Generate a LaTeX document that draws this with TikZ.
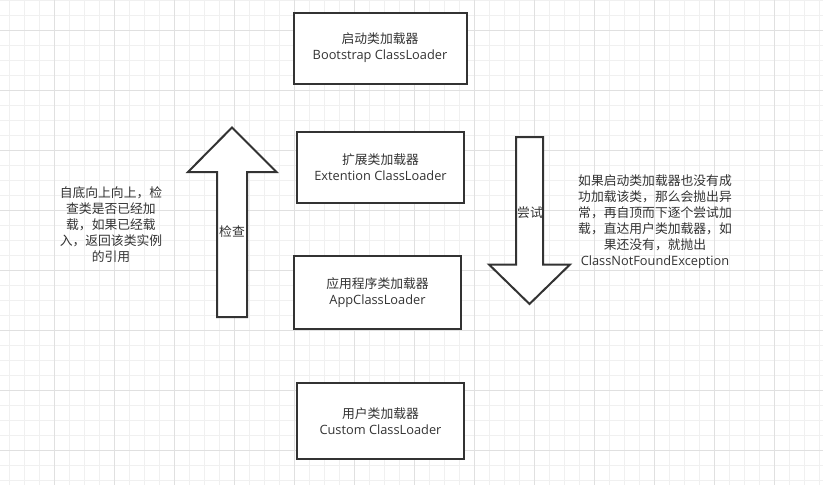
\documentclass[tikz,border=0pt]{standalone}
\usepackage{fontspec}
\setmainfont{Open Sans}
\newfontfamily\cjk{Noto Sans CJK SC}
\usepackage{tikz}
\usetikzlibrary{arrows}
\definecolor{ink}{HTML}{333333}
\definecolor{gridminor}{HTML}{F0F0F0}
\definecolor{gridmajor}{HTML}{E0E0E0}
\tikzset{
	loader/.style={draw=ink, line width=2pt, fill=white, text=ink, align=center, inner sep=0pt, font=\fontsize{12.8}{16}\selectfont},
	bigarrow/.style={draw=ink, line width=2pt, fill=white, line join=miter},
	note/.style={text=ink, align=center, inner sep=0pt, font=\fontsize{12.8}{16}\selectfont}
}

\begin{document}
\begin{tikzpicture}[line cap=butt,x=1pt,y=-1pt]
		\useasboundingbox (0,0) rectangle (823,485);
		\fill[white] (0,0) rectangle (823,485);
		\foreach \x in {9.5,24.5,...,819.5} \draw[gridminor, line width=1pt] (\x,0) -- (\x,485);
		\foreach \y in {0,15,...,480} \draw[gridminor, line width=1pt] (0,\y) -- (823,\y);
		\foreach \x in {54.5,114.5,...,774.5} \draw[gridmajor, line width=1pt] (\x,0) -- (\x,485);
		\foreach \y in {30,90,...,450} \draw[gridmajor, line width=1pt] (0,\y) -- (823,\y);
		\node[loader, minimum width=173pt, minimum height=71pt] (boot) at (380,48) {{\cjk 启动类加载器}\\Bootstrap ClassLoader};
		\node[loader, minimum width=167pt, minimum height=71pt] (ext) at (380.5,167.5) {{\cjk 扩展类加载器}\\Extention ClassLoader};
		\node[loader, minimum width=167pt, minimum height=73pt] (app) at (377.5,292.5) {{\cjk 应用程序类加载器}\\AppClassLoader};
		\node[loader, minimum width=167pt, minimum height=76pt] (custom) at (380.5,421) {{\cjk 用户类加载器}\\Custom ClassLoader};
		\draw[bigarrow] (217,317) -- (217,172) -- (188,172) -- (232,127.5) -- (276.5,172) -- (247,172) -- (247,317) -- cycle;
		\node[note] (check) at (232,232) {\cjk 检查};
		\draw[bigarrow] (516,137) -- (543,137) -- (543,264.5) -- (570,264.5) -- (529.5,304) -- (489,264.5) -- (516,264.5) -- cycle;
		\node[note] (try) at (530,213) {\cjk 尝试};
		\node[note] (upnote) at (111,225) {\cjk 自底向上向上，检\\\cjk 查类是否已经加\\\cjk 载，如果已经载\\\cjk 入，返回该类实例\\\cjk 的引用};
		\node[note] (downnote) at (655,222) {\cjk 如果启动类加载器也没有成\\\cjk 功加载该类，那么会抛出异\\\cjk 常，再自顶而下逐个尝试加\\\cjk 载，直达用户类加载器，如\\\cjk 果还没有，就抛出\\ClassNotFoundException};
	\end{tikzpicture}
\end{document}
